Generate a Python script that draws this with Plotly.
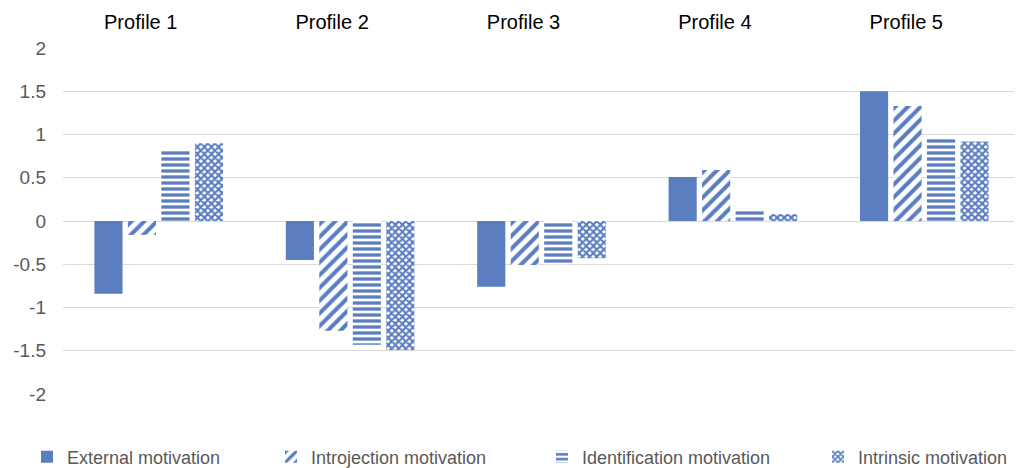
import plotly.graph_objects as go

profiles = ["Profile 1", "Profile 2", "Profile 3", "Profile 4", "Profile 5"]
external = [-0.84, -0.45, -0.76, 0.51, 1.50]
introjection = [-0.16, -1.27, -0.51, 0.59, 1.33]
identification = [0.82, -1.43, -0.50, 0.14, 0.96]
intrinsic = [0.90, -1.49, -0.43, 0.08, 0.92]

series_names = ["External motivation", "Introjection motivation",
                "Identification motivation", "Intrinsic motivation"]
y_ticks = [2, 1.5, 1, 0.5, 0, -0.5, -1, -1.5, -2]
y_ticktext = ["2", "1.5", "1", "0.5", "0", "-0.5", "-1", "-1.5", "-2"]

BLUE = "#5B7EC0"
W, H = 1014, 460

fig = go.Figure()
fig.add_trace(go.Bar(x=profiles, y=external, name=series_names[0], legend="legend",
                     marker=dict(color=BLUE, line=dict(width=0))))
fig.add_trace(go.Bar(x=profiles, y=introjection, name=series_names[1], legend="legend2",
                     marker=dict(color=BLUE, line=dict(width=0),
                                 pattern=dict(shape="/", size=9, solidity=0.45,
                                              fgcolor=BLUE, fgopacity=1, bgcolor="white"))))
fig.add_trace(go.Bar(x=profiles, y=identification, name=series_names[2], legend="legend3",
                     marker=dict(color=BLUE, line=dict(width=0),
                                 pattern=dict(shape="-", size=6, solidity=0.55,
                                              fgcolor=BLUE, fgopacity=1, bgcolor="white"))))
fig.add_trace(go.Bar(x=profiles, y=intrinsic, name=series_names[3], legend="legend4",
                     marker=dict(color=BLUE, line=dict(width=0),
                                 pattern=dict(shape="x", size=5, solidity=0.65,
                                              fgcolor=BLUE, fgopacity=1, bgcolor="white"))))

legend_x = [19, 263, 534, 810]


def leg(px):
    return dict(orientation="h", xref="container", yref="container",
                x=px / W, xanchor="left", y=1 - 449 / H, yanchor="middle",
                font=dict(size=18, color="#595959"), itemwidth=30,
                itemsizing="constant", bgcolor="rgba(0,0,0,0)")


fig.update_layout(
    width=W, height=H,
    margin=dict(l=55, r=2, t=40, b=74, autoexpand=False),
    paper_bgcolor="white", plot_bgcolor="white",
    font=dict(family="Liberation Sans, Arial", size=18, color="#595959"),
    barmode="group", bargap=0.30, bargroupgap=0.16,
    showlegend=True,
    legend=leg(legend_x[0]), legend2=leg(legend_x[1]),
    legend3=leg(legend_x[2]), legend4=leg(legend_x[3]),
)
fig.update_xaxes(side="top", showline=False, ticks="", showgrid=False, automargin=False,
                 tickfont=dict(size=20, color="#000000"), ticklabelstandoff=14,
                 ticklabelshift=-18)
fig.update_yaxes(range=[-2, 2], tickvals=y_ticks, ticktext=y_ticktext, automargin=False,
                 showgrid=True, gridcolor="#D9D9D9",
                 gridwidth=1, zeroline=True, zerolinecolor="#D9D9D9", zerolinewidth=1,
                 showline=False, ticks="", tickfont=dict(size=19, color="#595959"),
                 ticklabelstandoff=16)

fig.write_html("out.html")
